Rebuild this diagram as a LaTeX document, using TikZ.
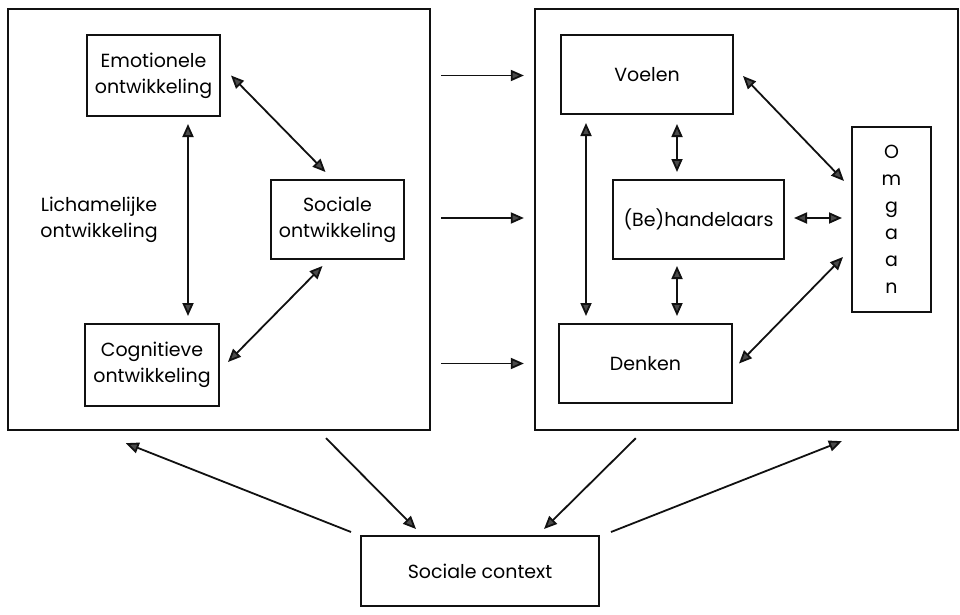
\documentclass[tikz,border=0pt]{standalone}
\usepackage{fontspec}
\setmainfont{Poppins}
\usepackage{tikz}
\usetikzlibrary{arrows.meta}
\definecolor{ink}{HTML}{111111}
\definecolor{tipgray}{HTML}{4A4A4A}

\begin{document}
\begin{tikzpicture}[x=1pt,y=-1pt,font=\fontsize{19}{26}\selectfont,
outer/.style={draw=ink,line width=2.3pt,minimum width=#1},
outer/.default=422pt,
box/.style={draw=ink,line width=2pt,align=center,inner sep=0pt},
lbl/.style={align=center,inner sep=0pt},
arr/.style={-{Triangle[length=13pt,width=11pt,fill=tipgray]},line width=1.8pt,draw=ink},
darr/.style={{Triangle[length=13pt,width=11pt,fill=tipgray]}-{Triangle[length=13pt,width=11pt,fill=tipgray]},line width=1.8pt,draw=ink}]
\useasboundingbox (0,0) rectangle (960,615);
% the two large frames
\node[outer,minimum height=421pt] (L) at (219,219.5) {};
\node[outer=423pt,minimum height=421pt] (R) at (746.5,219.5) {};
% left frame
\node[box,minimum width=133pt,minimum height=81pt] (emo) at (153.5,75.5) {Emotionele\\ontwikkeling};
\node[box,minimum width=133pt,minimum height=79pt] (soc) at (337.5,219.5) {Sociale\\ontwikkeling};
\node[box,minimum width=134pt,minimum height=82pt] (cog) at (152,365) {Cognitieve\\ontwikkeling};
\node[lbl] (lich) at (99,220) {Lichamelijke\\ontwikkeling};
% right frame
\node[box,minimum width=172pt,minimum height=79pt] (voel) at (647,74.5) {Voelen};
\node[box,minimum width=171pt,minimum height=79pt] (beh) at (698.5,219.5) {(Be)handelaars};
\node[box,minimum width=79pt,minimum height=185pt,font=\fontsize{19}{27}\selectfont] (omg) at (891.5,219.5) {O\\m\\g\\a\\a\\n};
\node[box,minimum width=173pt,minimum height=79pt] (denk) at (645.5,363.5) {Denken};
% bottom
\node[box,minimum width=238pt,minimum height=70pt] (ctx) at (480,571) {Sociale context};
% arrows inside the left frame
\draw[darr] ([xshift=34.5pt,yshift=-7pt]emo.south) -- ([xshift=36pt,yshift=7pt]cog.north);
\draw[darr] ([xshift=10pt]emo.east) -- ([xshift=-12pt,yshift=7pt]soc.north);
\draw[darr] ([xshift=8pt,yshift=3pt]cog.east) -- ([xshift=-15pt,yshift=-6pt]soc.south);
% between the frames
\draw[arr,shorten <=10pt,shorten >=10pt] (L.east |- emo) -- (R.west |- emo);
\draw[arr,shorten <=10pt,shorten >=10pt] ([yshift=1.5pt]L.east) -- ([yshift=1.5pt]R.west);
\draw[arr,shorten <=10pt,shorten >=10pt] (L.east |- denk) -- (R.west |- denk);
% arrows inside the right frame
\draw[darr] ([xshift=26pt,yshift=-8pt]voel.south west) -- ([xshift=28pt,yshift=7pt]denk.north west);
\draw[darr] ([xshift=30pt,yshift=-9pt]voel.south) -- ([xshift=-21.5pt,yshift=7pt]beh.north);
\draw[darr] ([xshift=-21.5pt,yshift=-6pt]beh.south) -- ([xshift=31.5pt,yshift=7pt]denk.north);
\draw[darr] ([xshift=9pt,yshift=1.5pt]beh.east) -- ([xshift=-9pt,yshift=1.5pt]omg.west);
\draw[darr] ([xshift=9pt,yshift=-1.5pt]voel.east) -- ([xshift=-7pt,yshift=-55pt]omg.north west);
\draw[darr] ([xshift=6pt]denk.east) -- ([xshift=-8pt,yshift=-37.5pt]omg.west);
% social context
\draw[arr] ([xshift=-9pt,yshift=3pt]ctx.north west) -- ([xshift=119pt,yshift=-12pt]L.south west);
\draw[arr] ([xshift=107pt,yshift=-7pt]L.south) -- ([xshift=56pt,yshift=6pt]ctx.north west);
\draw[arr] ([xshift=102pt,yshift=-7pt]R.south west) -- ([xshift=-56pt,yshift=6pt]ctx.north east);
\draw[arr] ([xshift=11pt,yshift=3pt]ctx.north east) -- ([xshift=308pt,yshift=-10pt]R.south west);
\end{tikzpicture}
\end{document}
